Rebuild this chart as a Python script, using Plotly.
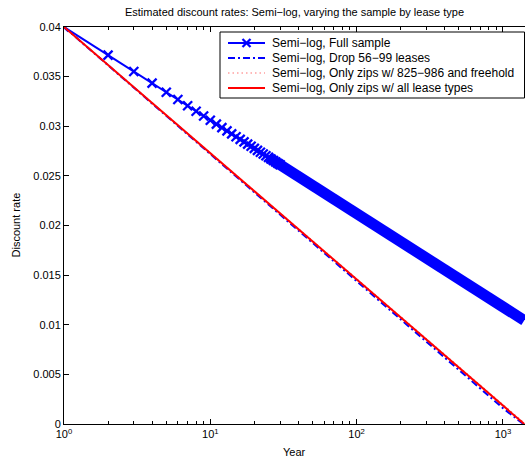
import plotly.graph_objects as go

# Estimated discount rate by year (semi-log specification), by sample definition
full_years = list(range(1, 31)) + [100, 1000, 1400]
full_rate = [0.04000, 0.03717, 0.03552, 0.03434, 0.03343, 0.03269, 0.03206, 0.03151,
             0.03103, 0.03060, 0.03021, 0.02986, 0.02953, 0.02923, 0.02894, 0.02868,
             0.02843, 0.02820, 0.02798, 0.02777, 0.02757, 0.02738, 0.02720, 0.02703,
             0.02686, 0.02670, 0.02655, 0.02640, 0.02625, 0.02612,
             0.02120, 0.01180, 0.01043]

drop_years = [1, 10, 100, 1000, 1380]
drop_rate = [0.04000, 0.02720, 0.01440, 0.00160, 0.00000]

freehold_years = [1, 10, 100, 1000, 1400]
freehold_rate = [0.04000, 0.02732, 0.01462, 0.00190, 0.00010]

all_types_years = [1, 10, 100, 1000, 1400]
all_types_rate = [0.04000, 0.02728, 0.01456, 0.00184, 0.00000]

series_names = [
    "Semi\u2212log, Full sample",
    "Semi\u2212log, Drop 56\u221299 leases",
    "Semi\u2212log, Only zips w/ 825\u2212986 and freehold",
    "Semi\u2212log, Only zips w/ all lease types",
]

x_tick_vals = [1, 10, 100, 1000]
x_tick_text = ["10<sup>0</sup>", "10<sup>1</sup>", "10<sup>2</sup>", "10<sup>3</sup>"]
x_minor_vals = [m * d for d in (1, 10, 100) for m in range(2, 10)]
y_tick_vals = [0, 0.005, 0.01, 0.015, 0.02, 0.025, 0.03, 0.035, 0.04]
y_tick_text = ["0", "0.005", "0.01", "0.015", "0.02", "0.025", "0.03", "0.035", "0.04"]

BLUE = "#0000ff"
RED = "#ff0000"
PINK = "#ff7070"
FONT = "Liberation Sans"

# plot area in pixels (used to place the boxed legend)
PL, PR, PT, PB = 64, 525, 27, 424


def px_x(p):
    return (p - PL) / (PR - PL)


def px_y(p):
    return (PB - p) / (PB - PT)


styles = [
    dict(color=BLUE, width=2, dash="solid"),
    dict(color=BLUE, width=2, dash="7px,3px,2px,3px"),
    dict(color=PINK, width=1.2, dash="1.5px,3px"),
    dict(color=RED, width=2, dash="solid"),
]

fig = go.Figure()

# Yearly markers merge into a solid band once they overlap
band_x = [y for y in full_years if y >= 25]
band_y = [r for y, r in zip(full_years, full_rate) if y >= 25]
fig.add_trace(go.Scatter(x=band_x, y=band_y, mode="lines",
                         line=dict(color=BLUE, width=11), hoverinfo="skip"))

mark_x = [y for y in full_years if y <= 30]
mark_y = [r for y, r in zip(full_years, full_rate) if y <= 30]
fig.add_trace(go.Scatter(x=mark_x, y=mark_y, mode="lines+markers",
                         name=series_names[0], line=styles[0],
                         marker=dict(symbol="x-thin", size=9,
                                     line=dict(color=BLUE, width=2.3))))

fig.add_trace(go.Scatter(x=drop_years, y=drop_rate, mode="lines",
                         name=series_names[1], line=styles[1]))
fig.add_trace(go.Scatter(x=freehold_years, y=freehold_rate, mode="lines",
                         name=series_names[2], line=styles[2]))
fig.add_trace(go.Scatter(x=all_types_years, y=all_types_rate, mode="lines",
                         name=series_names[3], line=styles[3]))

# Boxed legend in the upper-right corner
shapes = [dict(type="rect", xref="paper", yref="paper",
               x0=px_x(220), x1=px_x(524.5), y0=px_y(98), y1=px_y(32),
               line=dict(color="black", width=1), fillcolor="white", layer="above")]
annotations = []
row_y = [43, 58, 73, 88]
for name, st, ry in zip(series_names, styles, row_y):
    shapes.append(dict(type="line", xref="paper", yref="paper",
                       x0=px_x(228), x1=px_x(265), y0=px_y(ry), y1=px_y(ry),
                       line=dict(color=st["color"], width=st["width"], dash=st["dash"]),
                       layer="above"))
    annotations.append(dict(text=name, x=px_x(270), xref="paper", xanchor="left",
                            y=px_y(ry), yref="paper", yanchor="middle",
                            showarrow=False, font=dict(size=12)))
# the cross marker on the first legend sample
for dy in (-4, 4):
    shapes.append(dict(type="line", xref="paper", yref="paper",
                       xsizemode="pixel", ysizemode="pixel",
                       xanchor=px_x(246.5), yanchor=px_y(row_y[0]),
                       x0=-4, x1=4, y0=-dy, y1=dy,
                       line=dict(color=BLUE, width=2.3), layer="above"))

annotations += [
    dict(text="Year", x=0.5, xref="paper", xanchor="center",
         y=-28 / 397, yref="paper", yanchor="middle", showarrow=False,
         font=dict(size=11)),
    dict(text="Discount rate", x=-49 / 461, xref="paper", xanchor="center",
         y=0.5, yref="paper", yanchor="middle", textangle=-90, showarrow=False,
         font=dict(size=11)),
]

fig.update_layout(
    width=525, height=463,
    margin=dict(l=PL, r=525 - PR, t=PT, b=463 - PB),
    paper_bgcolor="white", plot_bgcolor="white",
    font=dict(family=FONT, size=11, color="black"),
    title=dict(text="Estimated discount rates: Semi\u2212log, varying the sample by lease type",
               x=294.5 / 525, xanchor="center", y=1 - 12 / 463, yanchor="middle",
               font=dict(size=11)),
    showlegend=False,
    shapes=shapes,
    annotations=annotations,
)

fig.update_xaxes(type="log", range=[0, 3.151],
                 tickvals=x_tick_vals, ticktext=x_tick_text,
                 ticks="inside", ticklen=5, tickwidth=1, tickcolor="black",
                 minor=dict(tickvals=x_minor_vals, ticks="inside", ticklen=3,
                            tickcolor="black", tickwidth=1),
                 showline=True, linecolor="black", linewidth=1, mirror="ticks",
                 showgrid=False, zeroline=False)

fig.update_yaxes(range=[0, 0.04], tickvals=y_tick_vals, ticktext=y_tick_text,
                 ticks="inside", ticklen=5, tickwidth=1, tickcolor="black",
                 showline=True, linecolor="black", linewidth=1,
                 showgrid=False, zeroline=False)

fig.write_html("out.html")
